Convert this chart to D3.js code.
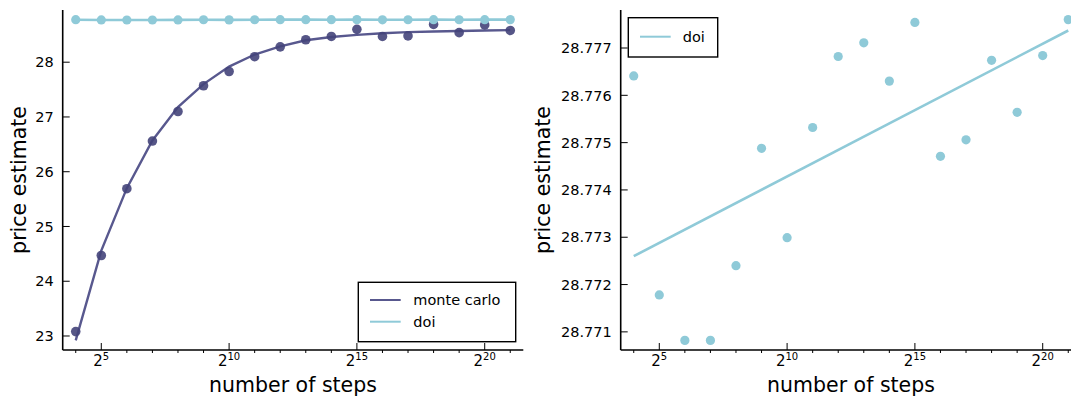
<!DOCTYPE html>
<html>
<head>
<meta charset="utf-8">
<script src="https://cdn.jsdelivr.net/npm/d3@7"></script>
<style>
  html, body { margin: 0; padding: 0; background: #fff; }
  svg { display: block; font-family: "DejaVu Sans", sans-serif; }
</style>
</head>
<body>
<svg id="chart" width="1071" height="397"></svg>
<script>
// Number of time steps used by each pricer (2^4 ... 2^21)
const steps = [16, 32, 64, 128, 256, 512, 1024, 2048, 4096, 8192, 16384, 32768,
               65536, 131072, 262144, 524288, 1048576, 2097152];

// Monte Carlo price estimates and the fitted convergence curve
const mcPrice = [23.08, 24.47, 25.69, 26.56, 27.10, 27.57, 27.83, 28.10, 28.28,
                 28.41, 28.47, 28.60, 28.47, 28.48, 28.69, 28.54, 28.68, 28.58];
const mcFit   = [22.92, 24.56, 25.70, 26.57, 27.18, 27.60, 27.92, 28.14, 28.29,
                 28.40, 28.46, 28.50, 28.53, 28.55, 28.56, 28.57, 28.58, 28.585];

// DOI price estimates
const doiPrice = [28.77641, 28.77178, 28.77082, 28.77082, 28.77240, 28.77488,
                  28.77299, 28.77532, 28.77682, 28.77711, 28.77630, 28.77754,
                  28.77471, 28.77506, 28.77674, 28.77564, 28.77684, 28.77760];
// Linear trend of the DOI estimates (first and last step)
const doiFitSteps = [16, 2097152];
const doiFit = [28.7726, 28.77737];

// Axis ticks
const xMajorExp = [5, 10, 15, 20];
const leftYTicks = [23, 24, 25, 26, 27, 28];
const rightYTicks = [28.771, 28.772, 28.773, 28.774, 28.775, 28.776, 28.777];

const MC_POINT = "#44447a";
const MC_LINE = "#58588e";
const DOI = "#8fcad8";

const svg = d3.select("#chart");

// widen a [min,max] extent by 3% on each side
function widen(ext) {
  const pad = (ext[1] - ext[0]) * 0.03;
  return [ext[0] - pad, ext[1] + pad];
}
const lo = Math.log2(d3.min(steps)), hi = Math.log2(d3.max(steps));
const xPad = (hi - lo) * 0.03;
const xDomain = [Math.pow(2, lo - xPad), Math.pow(2, hi + xPad)];

function panel(opts) {
  const { left, top, width, height, yDomain, yTicks, yFormat } = opts;
  const g = svg.append("g").attr("transform", `translate(${left},${top})`);
  const x = d3.scaleLog().base(2).domain(xDomain).range([0, width]);
  const y = d3.scaleLinear().domain(yDomain).range([height, 0]);

  // y ticks (inward) + labels
  yTicks.forEach(t => {
    g.append("line").attr("x1", 0).attr("x2", 7)
      .attr("y1", y(t)).attr("y2", y(t))
      .attr("stroke", "#000").attr("stroke-width", 1);
    g.append("text").attr("x", -9).attr("y", y(t)).attr("dy", "0.36em")
      .attr("text-anchor", "end").attr("font-size", 14.5).attr("fill", "#000")
      .text(yFormat(t));
  });

  // x ticks: major inward with 2^k labels, minor outward
  steps.forEach(s => {
    const e = Math.round(Math.log2(s));
    const major = xMajorExp.includes(e);
    g.append("line").attr("x1", x(s)).attr("x2", x(s))
      .attr("y1", height).attr("y2", major ? height - 7 : height + 3)
      .attr("stroke", "#000").attr("stroke-width", 1);
  });
  xMajorExp.forEach(e => {
    const t = g.append("text").attr("x", x(Math.pow(2, e))).attr("y", height + 16)
      .attr("text-anchor", "middle").attr("font-size", 15).attr("fill", "#000");
    t.append("tspan").text("2");
    t.append("tspan").attr("dy", -6).attr("font-size", 10).text(e);
  });

  // axis spines
  g.append("line").attr("x1", 0).attr("x2", 0).attr("y1", 0).attr("y2", height)
    .attr("stroke", "#000").attr("stroke-width", 1.6);
  g.append("line").attr("x1", 0).attr("x2", width).attr("y1", height).attr("y2", height)
    .attr("stroke", "#000").attr("stroke-width", 1.6);

  // axis titles
  g.append("text").attr("x", width / 2).attr("y", height + 41.5)
    .attr("text-anchor", "middle").attr("font-size", 20.5).attr("fill", "#000")
    .text("number of steps");
  g.append("text")
    .attr("transform", `translate(${opts.yLabelX},${height / 2}) rotate(-90)`)
    .attr("text-anchor", "middle").attr("dy", "0.35em")
    .attr("font-size", 20.5).attr("fill", "#000")
    .text("price estimate");

  return { g, x, y };
}

const H = 340, W = 460.6;

// ---- left panel: Monte Carlo vs DOI ----
const L = panel({
  left: 62.7, top: 10, width: W, height: H,
  yDomain: widen([d3.min(mcFit.concat(mcPrice)), d3.max(doiPrice)]),
  yTicks: leftYTicks, yFormat: d3.format("d"), yLabelX: -44
});
const lineL = d3.line().x((d, i) => L.x(steps[i])).y(d => L.y(d));
L.g.append("path").datum(mcFit).attr("d", lineL).attr("fill", "none")
  .attr("stroke", MC_LINE).attr("stroke-width", 2.4);
L.g.selectAll(".mc").data(mcPrice).join("circle")
  .attr("cx", (d, i) => L.x(steps[i])).attr("cy", d => L.y(d))
  .attr("r", 4.8).attr("fill", MC_POINT).attr("opacity", 0.9);
L.g.append("path").datum(doiPrice).attr("d", lineL).attr("fill", "none")
  .attr("stroke", DOI).attr("stroke-width", 2.6);
L.g.selectAll(".doi").data(doiPrice).join("circle")
  .attr("cx", (d, i) => L.x(steps[i])).attr("cy", d => L.y(d))
  .attr("r", 4.6).attr("fill", DOI);

// legend (left)
const lgL = L.g.append("g").attr("transform", `translate(${358.3 - 62.7},${282.3 - 10})`);
lgL.append("rect").attr("width", 157.4).attr("height", 59.4)
  .attr("fill", "#fff").attr("stroke", "#000").attr("stroke-width", 1.4);
[["monte carlo", MC_LINE], ["doi", DOI]].forEach(([name, c], i) => {
  const yy = 17.7 + i * 21.7;
  lgL.append("line").attr("x1", 11.7).attr("x2", 42.4).attr("y1", yy).attr("y2", yy)
    .attr("stroke", c).attr("stroke-width", 2);
  lgL.append("text").attr("x", 55).attr("y", yy).attr("dy", "0.36em")
    .attr("font-size", 14.5).attr("fill", "#000").text(name);
});

// ---- right panel: DOI detail ----
const R = panel({
  left: 620.7, top: 10, width: W, height: H,
  yDomain: widen(d3.extent(doiPrice)),
  yTicks: rightYTicks, yFormat: d3.format(".3f"), yLabelX: -78
});
R.g.append("path").datum(doiFit)
  .attr("d", d3.line().x((d, i) => R.x(doiFitSteps[i])).y(d => R.y(d)))
  .attr("fill", "none").attr("stroke", DOI).attr("stroke-width", 2.6);
R.g.selectAll(".doi").data(doiPrice).join("circle")
  .attr("cx", (d, i) => R.x(steps[i])).attr("cy", d => R.y(d))
  .attr("r", 4.6).attr("fill", DOI);

// legend (right)
const lgR = R.g.append("g").attr("transform", `translate(${628.3 - 620.7},${17.7 - 10})`);
lgR.append("rect").attr("width", 89.4).attr("height", 39.3)
  .attr("fill", "#fff").attr("stroke", "#000").attr("stroke-width", 1.4);
lgR.append("line").attr("x1", 11.7).attr("x2", 42.4).attr("y1", 19).attr("y2", 19)
  .attr("stroke", DOI).attr("stroke-width", 2);
lgR.append("text").attr("x", 54.4).attr("y", 19).attr("dy", "0.36em")
  .attr("font-size", 14.5).attr("fill", "#000").text("doi");
</script>
</body>
</html>
